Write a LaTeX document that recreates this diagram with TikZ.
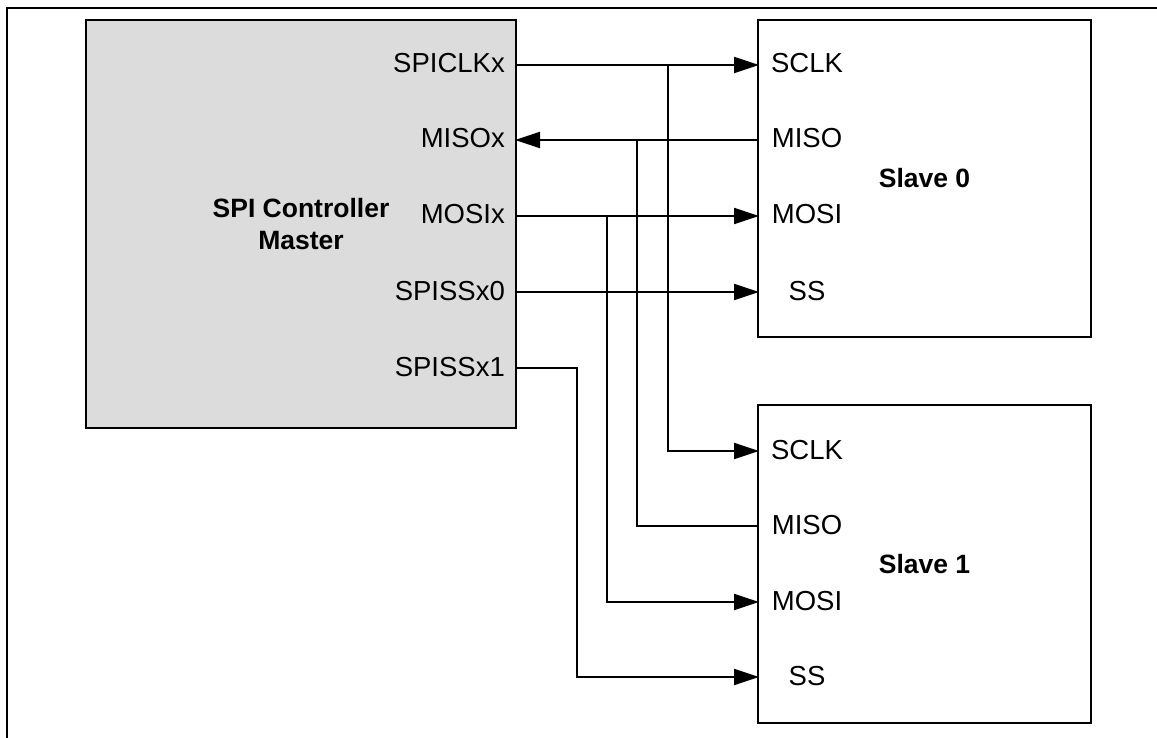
\documentclass[tikz,border=0pt]{standalone}
\usepackage{fontspec}
\setmainfont{Liberation Sans}
\usetikzlibrary{arrows.meta}
\definecolor{mastergray}{HTML}{DCDCDC}
\tikzset{
  box/.style={draw=black, line width=2.4pt, anchor=north west, inner sep=0pt, outer sep=0pt},
  wire/.style={draw=black, line width=2pt},
  arr/.style={wire, -{Triangle[length=25pt, width=16pt]}, shorten >=-1pt},
  portl/.style={anchor=base east, font=\fontsize{27.5}{33}\selectfont, inner sep=0pt},
  ports/.style={anchor=base, font=\fontsize{27.5}{33}\selectfont, inner sep=0pt},
  title/.style={font=\fontsize{26.5}{32}\selectfont\bfseries, align=center}
}
\begin{document}
\begin{tikzpicture}[x=1pt, y=-1pt]
\useasboundingbox (0,0) rectangle (1157,738);
% frame (top and left edges)
\coordinate (ftl) at (7,8);
\coordinate (ftr) at (1157,8);
\coordinate (fbl) at (7,738);
\draw[line width=2.6pt] (ftr) -- (ftl) -- (fbl);

% boxes
\node[box, fill=mastergray, minimum width=430pt, minimum height=408pt] (m) at (86,20) {};
\node[title] (mt) at (m.center) {SPI Controller\\Master};
\node[box, minimum width=333pt, minimum height=317pt] (s0) at (758,20) {};
\node[box, minimum width=333pt, minimum height=318pt] (s1) at (758,405) {};
\node[title] (s0t) at (s0.center) {Slave 0};
\node[title] (s1t) at (s1.center) {Slave 1};

% master port labels
\node[portl] (lclk) at (505,73) {SPICLKx};
\node[portl] (lmiso) at (505,148) {MISOx};
\node[portl] (lmosi) at (505,224) {MOSIx};
\node[portl] (lss0) at (505,300) {SPISSx0};
\node[portl] (lss1) at (505,376) {SPISSx1};

% slave port labels
\node[ports] (a0) at (807,73) {SCLK};
\node[ports] (b0) at (807,148) {MISO};
\node[ports] (c0) at (807,224) {MOSI};
\node[ports] (d0) at (807,300) {SS};
\node[ports] (a1) at (807,459) {SCLK};
\node[ports] (b1) at (807,534) {MISO};
\node[ports] (c1) at (807,610) {MOSI};
\node[ports] (d1) at (807,685) {SS};

% port coordinates on the master
\coordinate (mclk) at (516,65);
\coordinate (mmiso) at (516,140);
\coordinate (mmosi) at (516,216);
\coordinate (mss0) at (516,292);
\coordinate (mss1) at (516,368);
% port coordinates on slave 0
\coordinate (p0clk) at (758,65);
\coordinate (p0miso) at (758,140);
\coordinate (p0mosi) at (758,216);
\coordinate (p0ss) at (758,292);
% port coordinates on slave 1
\coordinate (p1clk) at (758,451);
\coordinate (p1miso) at (758,526);
\coordinate (p1mosi) at (758,602);
\coordinate (p1ss) at (758,677);
% junctions
\coordinate (jclk) at (668,65);
\coordinate (jmiso) at (637,140);
\coordinate (jmosi) at (607,216);
\coordinate (jss1) at (577,368);

% connectors
\draw[arr] (mclk) -- (p0clk);
\draw[arr] (jclk) |- (p1clk);
\draw[arr] (p0miso) -- (mmiso);
\draw[wire] (jmiso) |- (p1miso);
\draw[arr] (mmosi) -- (p0mosi);
\draw[arr] (jmosi) |- (p1mosi);
\draw[arr] (mss0) -- (p0ss);
\draw[arr] (mss1) -- (jss1) |- (p1ss);
\end{tikzpicture}
\end{document}
